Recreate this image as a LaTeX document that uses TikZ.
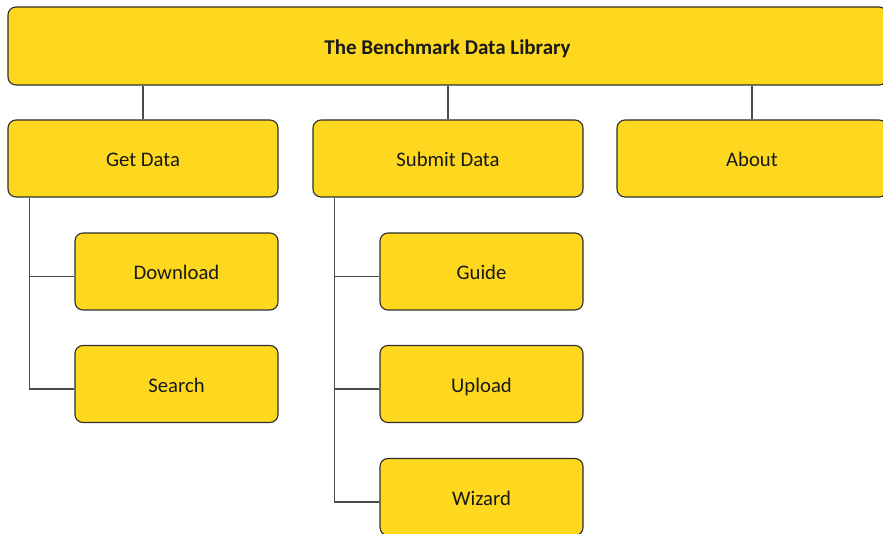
\documentclass[tikz,border=0pt]{standalone}
\usepackage{fontspec}
\setmainfont{Carlito}
\usetikzlibrary{calc}
\definecolor{boxfill}{HTML}{FED81F}
\definecolor{boxline}{HTML}{2E2E2E}
\definecolor{conline}{HTML}{4A4A4A}
\tikzset{
  box/.style={draw=boxline, line width=1.1pt, fill=boxfill, rounded corners=8pt,
    minimum height=77pt, inner sep=0pt, text height=18pt, text depth=1pt,
    font=\fontsize{20.7}{24}\selectfont, text=black!90},
  parentbox/.style={box, minimum width=270pt},
  childbox/.style={box, minimum width=203pt},
  conn/.style={draw=conline, line width=1.2pt}
}
\begin{document}
\begin{tikzpicture}[x=1pt,y=-1pt]
\useasboundingbox (0,0) rectangle (883,534);
\node[box, minimum width=879pt, minimum height=78pt, font=\fontsize{21}{24}\selectfont\bfseries] (root) at (447.5,46) {The Benchmark Data Library};
\node[parentbox] (gd) at (143,158.5) {Get Data};
\node[parentbox] (sd) at (448,158.5) {Submit Data};
\node[parentbox] (ab) at (752,158.5) {About};
\node[childbox] (dl) at (176.5,271.5) {Download};
\node[childbox] (sr) at (176.5,384) {Search};
\node[childbox] (gu) at (481.5,271.5) {Guide};
\node[childbox] (up) at (481.5,384) {Upload};
\node[childbox] (wz) at (481.5,497) {Wizard};
% root to parents
\draw[conn] (gd.north) -- (gd.north |- root.south);
\draw[conn] (sd.north) -- (sd.north |- root.south);
\draw[conn] (ab.north) -- (ab.north |- root.south);
% get data children
\coordinate (gdv) at ($(gd.south west)+(22,0)$);
\coordinate (dlin) at ($(dl.west)+(0,5)$);
\coordinate (srin) at ($(sr.west)+(0,5)$);
\draw[conn] (gdv) |- (srin);
\draw[conn] (gdv |- dlin) -- (dlin);
% submit data children
\coordinate (sdv) at ($(sd.south west)+(22,0)$);
\coordinate (guin) at ($(gu.west)+(0,5)$);
\coordinate (upin) at ($(up.west)+(0,5)$);
\coordinate (wzin) at ($(wz.west)+(0,5)$);
\draw[conn] (sdv) |- (wzin);
\draw[conn] (sdv |- guin) -- (guin);
\draw[conn] (sdv |- upin) -- (upin);
\end{tikzpicture}
\end{document}
